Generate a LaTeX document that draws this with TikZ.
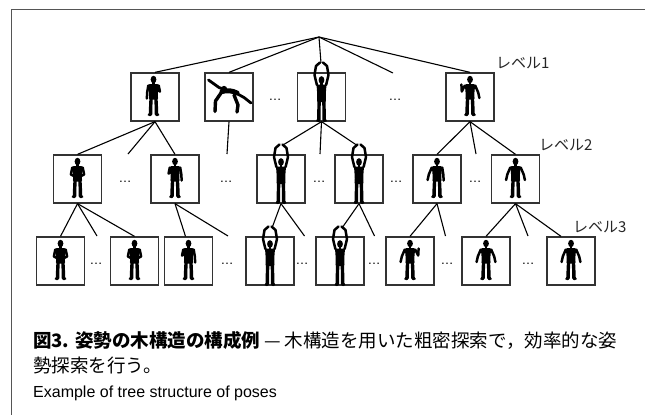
\documentclass[tikz,border=0pt]{standalone}
\usepackage{fontspec}
\newfontfamily\jpfont{Noto Sans CJK JP}
\newfontfamily\enfont{Liberation Sans}
\usetikzlibrary{calc}
\definecolor{boxgray}{HTML}{333333}
\definecolor{framegray}{HTML}{555555}

% silhouette parts (figure centred on the origin, y grows downwards)
\newcommand\posebody{%
  \fill (0,-17.5) ellipse [x radius=2.9pt, y radius=3.7pt];
  \fill (-1.4,-15) rectangle (1.4,-11.5);
  \fill[rounded corners=1.2pt] (-5.2,-12.8) -- (5.2,-12.8) -- (4.3,-3) -- (4.6,2.5) -- (-4.6,2.5) -- (-4.3,-3) -- cycle;
  \draw[limb] (-2.4,1) -- (-2.8,9.5) -- (-2.9,17.2) -- (-4.2,17.6);
  \draw[limb] (2.4,1) -- (2.8,9.5) -- (2.9,17.2) -- (4.2,17.6);
}
\newcommand\armdown[1]{\draw[arm] (#1*5.2,-11.5) -- (#1*6.4,-4) -- (#1*6.6,1.5);}
\newcommand\armbent[1]{\draw[arm] (#1*5.2,-11.5) -- (#1*6.6,-4.5) -- (#1*3.2,-2.8);}
\newcommand\armwave[1]{\draw[arm] (#1*5.2,-11.5) -- (#1*8.2,-5.5) -- (#1*8.6,-12.5);}
\newcommand\armout[1]{\draw[arm] (#1*5.2,-11.5) -- (#1*8.2,-4.5) -- (#1*9.4,1);}
\newcommand\armchest[1]{\draw[arm] (#1*5.2,-11.5) -- (#1*6.4,-5.5) -- (#1*2.5,-8);}

\begin{document}
\begin{tikzpicture}[x=1pt,y=-1pt,
  posebox/.style={draw=boxgray, line width=1.3pt, minimum width=48pt, minimum height=48pt, inner sep=0pt},
  edge/.style={line width=1.1pt, black},
  limb/.style={line width=3.4pt, line cap=round, line join=round},
  arm/.style={line width=2.5pt, line cap=round, line join=round},
  dots/.style={inner sep=0pt, font=\enfont\fontsize{13}{13}\selectfont},
  levellabel/.style={anchor=west, inner sep=0pt, font=\jpfont\fontsize{15}{15}\selectfont, text=black!85},
  pics/pose/.style 2 args={code={\posebody\csname arm#1\endcsname{-1}\csname arm#2\endcsname{1}}},
  pics/poseup/.style={code={
    \fill (0,-17) ellipse [x radius=2.9pt, y radius=3.8pt];
    \fill (-1.4,-14.5) rectangle (1.4,-11);
    \fill[rounded corners=1.2pt] (-5,-12.5) -- (5,-12.5) -- (4.2,-2) -- (4.5,5) -- (-4.5,5) -- (-4.2,-2) -- cycle;
    \draw[limb] (-2.3,3) -- (-2.6,14) -- (-2.6,23) -- (-3.8,23.5);
    \draw[limb] (2.3,3) -- (2.6,14) -- (2.6,23) -- (3.8,23.5);
    \draw[arm] (-4.6,-12) -- (-7,-22) -- (-5.5,-31) -- (-1.5,-34.5);
    \draw[arm] (4.6,-12) -- (7,-22) -- (5.5,-31) -- (1.5,-34.5);
  }},
  pics/posecrawl/.style={code={
    \draw[arm, line width=2.8pt] (-20.5,-17) -- (-10,-9.5) -- (0,-5.5);
    \fill (-5,-8.5) ellipse [x radius=3pt, y radius=2.6pt];
    \draw[limb, line width=5pt] (-7,-5.5) .. controls (-2,-7) and (3,-6.5) .. (8,-4);
    \draw[arm, line width=2.8pt] (6,-4.5) -- (15,0.5) -- (22,6);
    \draw[limb] (-8,-4) -- (-13.5,4) -- (-14,14.5);
    \draw[limb] (5,-2) -- (9,8) -- (8,15);
  }}
]
\useasboundingbox (0,0) rectangle (645,415);

% open frame
\draw[framegray, line width=1pt] (645,9.3) -- (11.3,9.3) -- (11.3,415);

% root
\coordinate (root) at (319,37);

% level 1
\node[posebox] (l1a) at (155,97) {};
\node[posebox] (l1b) at (229,97) {};
\node[posebox] (l1c) at (321.5,97) {};
\node[posebox] (l1d) at (470,97) {};
\node[dots] (l1dots1) at (275,100) {\ldots};
\node[dots] (l1dots2) at (395,100) {\ldots};
\node[levellabel] (lab1) at (496,63) {レベル1};

% level 2
\node[posebox] (l2a) at (77.5,179) {};
\node[posebox] (l2b) at (175,179) {};
\node[posebox] (l2c) at (281,179) {};
\node[posebox] (l2d) at (359,179) {};
\node[posebox] (l2e) at (437,179) {};
\node[posebox] (l2f) at (515.5,179) {};
\foreach \x [count=\i] in {125,226,319,396,475}
  \node[dots] (l2dots\i) at (\x,182) {\ldots};
\node[levellabel] (lab2) at (539,145) {レベル2};

% level 3
\node[posebox] (l3a) at (60.5,261) {};
\node[posebox] (l3b) at (134.5,261) {};
\node[posebox] (l3c) at (188.5,261) {};
\node[posebox] (l3d) at (270,261) {};
\node[posebox] (l3e) at (340,261) {};
\node[posebox] (l3f) at (410,261) {};
\node[posebox] (l3g) at (486,261) {};
\node[posebox] (l3h) at (571,261) {};
\foreach \x [count=\i] in {96,227,302,374,447,528}
  \node[dots] (l3dots\i) at (\x,264) {\ldots};
\node[levellabel] (lab3) at (573,227) {レベル3};

% free ends of branches that lead to omitted poses
\coordinate (r-free) at (393,73);
\coordinate (l1a-free) at (128,154);
\coordinate (l1b-free) at (227,154);
\coordinate (l1c-free) at (320,154);
\coordinate (l1d-free) at (476,154);
\coordinate (l2a-free) at (97,236);
\coordinate (l2b-free) at (228,236);
\coordinate (l2c-free) at (304.5,236);
\coordinate (l2d-free) at (374.5,236);
\coordinate (l2e-free) at (445.5,236);
\coordinate (l2f-free) at (528,236);

% raised hands of the arms-up poses
\coordinate (l1c-hands) at (321,63);
\coordinate (l2c-hands) at (283,145);
\coordinate (l2d-hands) at (356.5,145);
\coordinate (l3d-hands) at (272,228);
\coordinate (l3e-hands) at (342,228);

% branches
\draw[edge] (root) -- (l1a.north);
\draw[edge] (root) -- (l1b.north);
\draw[edge] (root) -- (l1c-hands);
\draw[edge] (root) -- (r-free);
\draw[edge] (root) -- (l1d.north);

\draw[edge] (l1a.south) -- (l2a.north);
\draw[edge] (l1a.south) -- (l1a-free);
\draw[edge] (l1a.south) -- (l2b.north);
\draw[edge] (l1b.south) -- (l1b-free);
\draw[edge] (l1c.south) -- (l2c-hands);
\draw[edge] (l1c.south) -- (l1c-free);
\draw[edge] (l1c.south) -- (l2d-hands);
\draw[edge] (l1d.south) -- (l2e.north);
\draw[edge] (l1d.south) -- (l1d-free);
\draw[edge] (l1d.south) -- (l2f.north);

\draw[edge] (l2a.south) -- (l3a.north);
\draw[edge] (l2a.south) -- (l2a-free);
\draw[edge] (l2a.south) -- (l3b.north);
\draw[edge] (l2b.south) -- ([xshift=-3pt]l3c.north);
\draw[edge] (l2b.south) -- (l2b-free);
\draw[edge] (l2c.south) -- (l3d-hands);
\draw[edge] (l2c.south) -- (l2c-free);
\draw[edge] (l2d.south) -- (l3e-hands);
\draw[edge] (l2d.south) -- (l2d-free);
\draw[edge] (l2e.south) -- (l3f.north);
\draw[edge] (l2e.south) -- (l2e-free);
\draw[edge] (l2f.south) -- (l3g.north);
\draw[edge] (l2f.south) -- (l2f-free);
\draw[edge] (l2f.south) -- ([xshift=-10pt]l3h.north);

% poses
\pic at ([xshift=-1.5pt]l1a.center) {pose={down}{chest}};
\pic at (l1b.center) {posecrawl};
\pic at (l1c.center) {poseup};
\pic at (l1d.center) {pose={wave}{out}};

\pic at (l2a.center) {pose={bent}{bent}};
\pic at (l2b.center) {pose={chest}{down}};
\pic at (l2c.center) {poseup};
\pic at (l2d.center) {poseup};
\pic at (l2e.center) {pose={out}{down}};
\pic at (l2f.center) {pose={out}{out}};

\pic at (l3a.center) {pose={bent}{bent}};
\pic at (l3b.center) {pose={bent}{bent}};
\pic at (l3c.center) {pose={chest}{down}};
\pic at (l3d.center) {poseup};
\pic at (l3e.center) {poseup};
\pic at (l3f.center) {pose={out}{wave}};
\pic at (l3g.center) {pose={out}{out}};
\pic at (l3h.center) {pose={out}{out}};

% caption
\node[anchor=base west, inner sep=0pt, font=\jpfont\fontsize{18.5}{18.5}\selectfont] (cap1) at (33,347)
  {{\bfseries 図3. 姿勢の木構造の構成例} — 木構造を用いた粗密探索で，効率的な姿};
\node[anchor=base west, inner sep=0pt, font=\jpfont\fontsize{18.5}{18.5}\selectfont] (cap2) at (33,372)
  {勢探索を行う。};
\node[anchor=base west, inner sep=0pt, font=\enfont\fontsize{16}{16}\selectfont] (cap3) at (33,397)
  {Example of tree structure of poses};
\end{tikzpicture}
\end{document}
